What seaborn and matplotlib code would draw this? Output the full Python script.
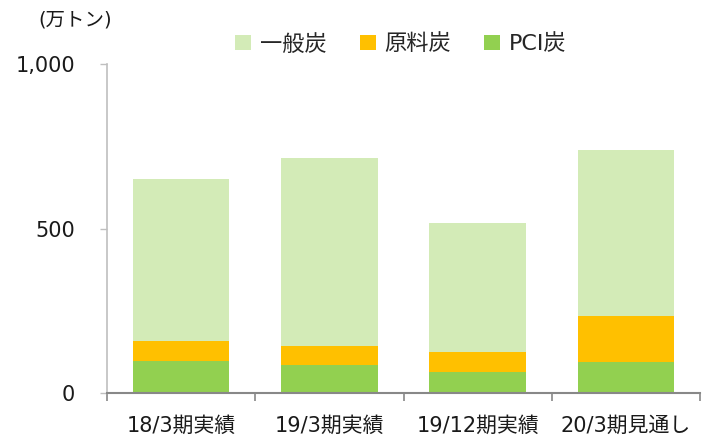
import matplotlib
matplotlib.use("Agg")
import matplotlib.pyplot as plt
import seaborn as sns
import pandas as pd
import numpy as np

categories = ["18/3期実績", "19/3期実績", "19/12期実績", "20/3期見通し"]
pci = [98, 85, 66, 94]
genryo = [62, 60, 60, 141]
ippan = [491, 570, 392, 503]
series_names = ["一般炭", "原料炭", "PCI炭"]
ytick_vals = [0, 500, 1000]
ytick_labels = ["0", "500", "1,000"]
unit_label = "(万トン)"

colors = {"一般炭": "#D3EBB7", "原料炭": "#FFC000", "PCI炭": "#92D050"}

sns.set_theme(style="white")
plt.rcParams["font.family"] = ["DejaVu Sans", "Noto Sans CJK JP"]

df = pd.DataFrame({"cat": categories, "PCI炭": pci, "原料炭": genryo, "一般炭": ippan})
df["c2"] = df["PCI炭"] + df["原料炭"]
df["c3"] = df["c2"] + df["一般炭"]

fig = plt.figure(figsize=(7.08, 4.4), dpi=100)
ax = fig.add_axes([107 / 708, 1 - 393.3 / 440, (700 - 107) / 708, (393.3 - 64) / 440])

sns.barplot(data=df, x="cat", y="c3", color=colors["一般炭"], width=0.65,
            label="一般炭", ax=ax, linewidth=0, saturation=1)
sns.barplot(data=df, x="cat", y="c2", color=colors["原料炭"], width=0.65,
            label="原料炭", ax=ax, linewidth=0, saturation=1)
sns.barplot(data=df, x="cat", y="PCI炭", color=colors["PCI炭"], width=0.65,
            label="PCI炭", ax=ax, linewidth=0, saturation=1)

ax.set_xlim(-0.5, 3.5)
ax.set_ylim(0, 1000)
ax.set_xlabel("")
ax.set_ylabel("")
ax.set_yticks(ytick_vals)
ax.set_yticklabels(ytick_labels, fontsize=15, color="#1a1a1a")
ax.set_xticks(np.arange(len(categories)))
ax.set_xticklabels(categories, fontsize=15, color="#1a1a1a")
ax.set_xticks(np.arange(-0.5, len(categories), 1.0), minor=True)
ax.tick_params(axis="x", which="major", length=0, pad=16)
ax.tick_params(axis="x", which="minor", length=6, width=1.2, color="#888888", direction="out", bottom=True)
ax.tick_params(axis="y", which="major", length=5, width=1, color="#BFBFBF", direction="out", left=True, pad=18)

for s in ["top", "right"]:
    ax.spines[s].set_visible(False)
ax.spines["left"].set_color("#BFBFBF")
ax.spines["left"].set_linewidth(1.2)
ax.spines["bottom"].set_color("#888888")
ax.spines["bottom"].set_linewidth(1.5)
ax.grid(False)

ax.legend(loc="center", bbox_to_anchor=(401 / 708, 1 - 44 / 440), bbox_transform=fig.transFigure,
          ncol=3, frameon=False, fontsize=16, handlelength=0.7, handleheight=0.7,
          handletextpad=0.4, columnspacing=1.5)

fig.text(38 / 708, 1 - 20 / 440, unit_label, fontsize=14, va="center", ha="left", color="#1a1a1a")

fig.savefig("out.png", dpi=100)
